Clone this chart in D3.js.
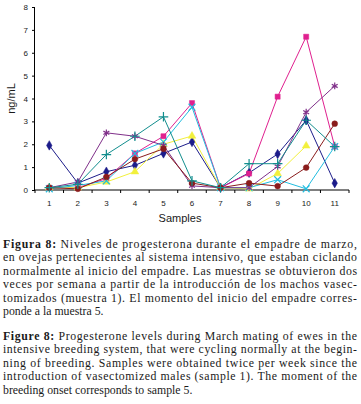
<!DOCTYPE html>
<html>
<head>
<style>
  body {
    background-color: white;
    margin: 0px;
  }
  svg text {
    fill: #1a1a1a;
  }
  .axis text {
    font-family: Arial, "Liberation Sans", sans-serif;
    font-size: 8px;
  }
  .caption {
    font-family: "Liberation Serif", "DejaVu Serif", serif;
    font-size: 11.8px;
  }
</style>
<script src="https://cdn.jsdelivr.net/npm/d3@7"></script>
</head>
<body>
  <svg></svg>
</body>
<script>
const samples = ["1", "2", "3", "4", "5", "6", "7", "8", "9", "10", "11"];
const yTicks = [0, 1, 2, 3, 4, 5, 6, 7, 8];

// one array per ewe
const ewe1 = [1.95, 0.3, 0.8, 1.08, 1.6, 2.1, 0.1, 0.75, 1.57, 3.05, 0.3];
const ewe2 = [0.1, 0.1, 0.5, 1.6, 2.35, 3.8, 0.1, 0.72, 4.08, 6.7, 1.9];
const ewe3 = [0.1, 0.1, 0.35, 0.8, 2.0, 2.36, 0.1, 0.05, 0.72, 1.93, null];
const ewe4 = [0.05, 0.2, 0.4, 1.6, 2.1, 3.62, 0.1, 0.1, 0.45, 0.05, 1.9];
const ewe5 = [0.1, 0.35, 2.5, 2.35, 1.95, 0.18, 0.1, 0.1, 1.03, 3.4, 4.55];
const ewe6 = [0.1, 0.05, 0.57, 1.35, 1.8, 0.3, 0.1, 0.3, 0.17, 0.98, 2.9];
const ewe7 = [0.1, 0.25, 1.55, 2.35, 3.2, 0.4, 0.1, 1.15, 1.15, 3.05, 1.9];

const captionEs = [
  ["Figura 8:", " Niveles de progesterona durante el empadre de marzo,"],
  ["", "en ovejas pertenecientes al sistema intensivo,  que estaban ciclando"],
  ["", "normalmente al inicio del empadre. Las muestras se obtuvieron dos"],
  ["", "veces por semana a partir de la introducción de los machos vasec-"],
  ["", "tomizados (muestra 1). El momento del inicio del empadre corres-"],
  ["", "ponde a la muestra 5."]
];
const captionEn = [
  ["Figure 8:", " Progesterone levels during March mating of ewes in the"],
  ["", "intensive breeding system, that were cycling normally at the begin-"],
  ["", "ning of breeding. Samples were obtained twice per week since the"],
  ["", "introduction of vasectomized males (sample 1). The moment of the"],
  ["", "breeding onset corresponds to sample 5."]
];

const series = [
  {values: ewe1, color: "#1c1c8a", symbol: d3.symbolDiamond, fill: true},
  {values: ewe2, color: "#e0208f", symbol: d3.symbolSquare, fill: true},
  {values: ewe3, color: "#f2f03c", symbol: d3.symbolTriangle, fill: true},
  {values: ewe4, color: "#22bde0", symbol: d3.symbolTimes, fill: false},
  {values: ewe5, color: "#80308a", symbol: d3.symbolAsterisk, fill: false},
  {values: ewe6, color: "#8a1c1c", symbol: d3.symbolCircle, fill: true},
  {values: ewe7, color: "#128e8e", symbol: d3.symbolPlus, fill: false}
];

const width = 361, height = 404;

const svg = d3.select("svg")
    .attr("width", width)
    .attr("height", height);

const x = d3.scaleBand().domain(samples).range([35, 349]);
const y = d3.scaleLinear().domain([0, 8]).range([190, 7]);

// x axis: ticks at band edges, labels at centres
const xAxis = svg.append("g").attr("class", "axis");
xAxis.append("line")
    .attr("x1", x.range()[0]).attr("x2", x.range()[1])
    .attr("y1", y(0)).attr("y2", y(0))
    .attr("stroke", "#000");
xAxis.selectAll(".tick")
    .data(samples.concat(["end"]))
  .enter().append("line")
    .attr("x1", function(d) {return d == "end" ? x.range()[1] : x(d)})
    .attr("x2", function(d) {return d == "end" ? x.range()[1] : x(d)})
    .attr("y1", y(0)).attr("y2", y(0) + 3)
    .attr("stroke", "#000");
xAxis.selectAll("text")
    .data(samples)
  .enter().append("text")
    .attr("x", function(d) {return x(d) + x.bandwidth() / 2})
    .attr("y", 206)
    .attr("text-anchor", "middle")
    .text(function(d) {return d});

svg.append("g")
    .attr("class", "axis")
    .attr("transform", "translate(35,0)")
    .call(d3.axisLeft(y).tickValues(yTicks).tickSize(3).tickPadding(4))
    .call(function(g) {g.select(".domain").attr("d", "M-0.5," + y(8) + "V" + y(0))});

svg.append("text")
    .attr("transform", "translate(15," + y(4) + ") rotate(-90)")
    .attr("text-anchor", "middle")
    .style("font-family", "Arial, 'Liberation Sans', sans-serif")
    .style("font-size", "11px")
    .text("ng/mL");

svg.append("text")
    .attr("x", 180)
    .attr("y", 222)
    .attr("text-anchor", "middle")
    .style("font-family", "Arial, 'Liberation Sans', sans-serif")
    .style("font-size", "11px")
    .text("Samples");

const line = d3.line()
    .defined(function(d) {return d != null})
    .x(function(d, i) {return x(samples[i]) + x.bandwidth() / 2})
    .y(function(d) {return y(d)});

series.forEach(function(s) {
  svg.append("path")
      .datum(s.values)
      .attr("d", line)
      .attr("fill", "none")
      .attr("stroke", s.color)
      .attr("stroke-width", 1);
});

series.forEach(function(s) {
  const sym = d3.symbol().type(s.symbol).size(s.fill ? 26 : 32);
  svg.append("g").selectAll("path")
      .data(s.values.map(function(v, i) {return [i, v]}).filter(function(d) {return d[1] != null}))
    .enter().append("path")
      .attr("transform", function(d) {
        return "translate(" + (x(samples[d[0]]) + x.bandwidth() / 2) + "," + y(d[1]) + ")";
      })
      .attr("d", sym)
      .attr("fill", s.fill ? s.color : "none")
      .attr("stroke", s.color)
      .attr("stroke-width", s.fill ? 0.5 : 1.2);
});

function caption(lines, top) {
  const g = svg.append("g").attr("class", "caption");
  lines.forEach(function(l, i) {
    const t = g.append("text")
        .attr("x", 3)
        .attr("y", top + i * 13.4);
    if (i < lines.length - 1) {
      t.attr("textLength", 354).attr("lengthAdjust", "spacing");
    }
    if (l[0]) t.append("tspan").style("font-weight", "bold").text(l[0]);
    t.append("tspan").text(l[1]);
  });
}

caption(captionEs, 248);
caption(captionEn, 340);
</script>
</html>
